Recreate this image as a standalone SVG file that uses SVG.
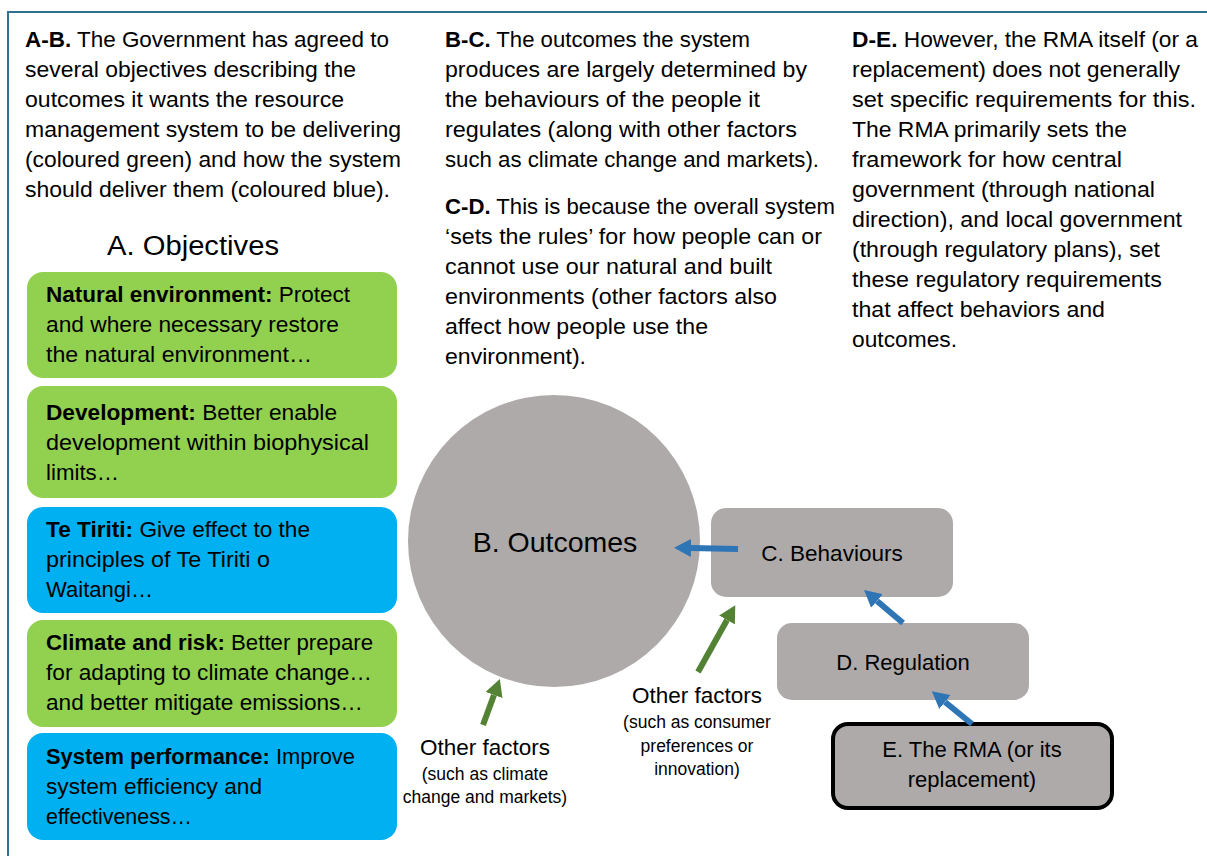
<svg xmlns="http://www.w3.org/2000/svg" width="1207" height="856" viewBox="0 0 1207 856">
<style>
.t{font-family:"Liberation Sans",Arial,sans-serif;font-size:22px;fill:#000}
.b{font-weight:bold}
.c{text-anchor:middle}
.s{font-size:17.5px}
.g{fill:#92d050}
.bl{fill:#00b0f0}
.grey{fill:#aeaaaa}
.ab{stroke:#2e75b6;stroke-width:6;fill:none}
.ag{stroke:#548235;stroke-width:6;fill:none}
</style>
<defs>
<marker id="hb" markerUnits="userSpaceOnUse" markerWidth="18" markerHeight="18" refX="0" refY="9" orient="auto" viewBox="0 0 18 18"><path d="M0,0 L17,9 L0,18 z" fill="#2e75b6"/></marker>
<marker id="hg" markerUnits="userSpaceOnUse" markerWidth="18" markerHeight="18" refX="0" refY="9" orient="auto" viewBox="0 0 18 18"><path d="M0,0 L17,9 L0,18 z" fill="#548235"/></marker>
</defs>
<rect width="1207" height="856" fill="#fff"/>
<g id="frame"><path d="M8,856 V12 H1207" fill="none" stroke="#31708f" stroke-width="2"/></g>

<g id="text-ab">
<text class="t" x="25" y="47" textLength="364" lengthAdjust="spacingAndGlyphs"><tspan class="b">A-B.</tspan> The Government has agreed to</text>
<text class="t" x="25" y="77" textLength="331" lengthAdjust="spacingAndGlyphs">several objectives describing the</text>
<text class="t" x="25" y="107" textLength="319" lengthAdjust="spacingAndGlyphs">outcomes it wants the resource</text>
<text class="t" x="25" y="137" textLength="376" lengthAdjust="spacingAndGlyphs">management system to be delivering</text>
<text class="t" x="25" y="167" textLength="376" lengthAdjust="spacingAndGlyphs">(coloured green) and how the system</text>
<text class="t" x="25" y="197" textLength="365" lengthAdjust="spacingAndGlyphs">should deliver them (coloured blue).</text>
</g>

<g id="text-bc">
<text class="t" x="445" y="47" textLength="305" lengthAdjust="spacingAndGlyphs"><tspan class="b">B-C.</tspan> The outcomes the system</text>
<text class="t" x="445" y="77" textLength="362" lengthAdjust="spacingAndGlyphs">produces are largely determined by</text>
<text class="t" x="445" y="107" textLength="315" lengthAdjust="spacingAndGlyphs">the behaviours of the people it</text>
<text class="t" x="445" y="137" textLength="352" lengthAdjust="spacingAndGlyphs">regulates (along with other factors</text>
<text class="t" x="445" y="167" textLength="374" lengthAdjust="spacingAndGlyphs">such as climate change and markets).</text>
</g>

<g id="text-cd">
<text class="t" x="445" y="214" textLength="390" lengthAdjust="spacingAndGlyphs"><tspan class="b">C-D.</tspan> This is because the overall system</text>
<text class="t" x="445" y="244" textLength="377" lengthAdjust="spacingAndGlyphs">‘sets the rules’ for how people can or</text>
<text class="t" x="445" y="274" textLength="327" lengthAdjust="spacingAndGlyphs">cannot use our natural and built</text>
<text class="t" x="445" y="304" textLength="332" lengthAdjust="spacingAndGlyphs">environments (other factors also</text>
<text class="t" x="445" y="334" textLength="263" lengthAdjust="spacingAndGlyphs">affect how people use the</text>
<text class="t" x="445" y="364" textLength="141" lengthAdjust="spacingAndGlyphs">environment).</text>
</g>

<g id="text-de">
<text class="t" x="852" y="47" textLength="346" lengthAdjust="spacingAndGlyphs"><tspan class="b">D-E.</tspan> However, the RMA itself (or a</text>
<text class="t" x="852" y="77" textLength="328" lengthAdjust="spacingAndGlyphs">replacement) does not generally</text>
<text class="t" x="852" y="107" textLength="344" lengthAdjust="spacingAndGlyphs">set specific requirements for this.</text>
<text class="t" x="852" y="137" textLength="275" lengthAdjust="spacingAndGlyphs">The RMA primarily sets the</text>
<text class="t" x="852" y="167" textLength="270" lengthAdjust="spacingAndGlyphs">framework for how central</text>
<text class="t" x="852" y="197" textLength="303" lengthAdjust="spacingAndGlyphs">government (through national</text>
<text class="t" x="852" y="227" textLength="330" lengthAdjust="spacingAndGlyphs">direction), and local government</text>
<text class="t" x="852" y="257" textLength="308" lengthAdjust="spacingAndGlyphs">(through regulatory plans), set</text>
<text class="t" x="852" y="287" textLength="310" lengthAdjust="spacingAndGlyphs">these regulatory requirements</text>
<text class="t" x="852" y="317" textLength="253" lengthAdjust="spacingAndGlyphs">that affect behaviors and</text>
<text class="t" x="852" y="347" textLength="105" lengthAdjust="spacingAndGlyphs">outcomes.</text>
</g>

<g id="objectives-title">
<text class="t" x="107" y="255" style="font-size:27px" textLength="172" lengthAdjust="spacingAndGlyphs">A. Objectives</text>
</g>

<g id="obj-natural">
<rect class="g" x="27" y="272" width="370" height="106" rx="16"/>
<text class="t" x="46" y="302" textLength="304" lengthAdjust="spacingAndGlyphs"><tspan class="b">Natural environment:</tspan> Protect</text>
<text class="t" x="46" y="332" textLength="293" lengthAdjust="spacingAndGlyphs">and where necessary restore</text>
<text class="t" x="46" y="362" textLength="266" lengthAdjust="spacingAndGlyphs">the natural environment…</text>
</g>
<g id="obj-development">
<rect class="g" x="27" y="386" width="370" height="112" rx="16"/>
<text class="t" x="46" y="420" textLength="291" lengthAdjust="spacingAndGlyphs"><tspan class="b">Development:</tspan> Better enable</text>
<text class="t" x="46" y="450" textLength="323" lengthAdjust="spacingAndGlyphs">development within biophysical</text>
<text class="t" x="46" y="480" textLength="73" lengthAdjust="spacingAndGlyphs">limits…</text>
</g>
<g id="obj-tetiriti">
<rect class="bl" x="27" y="507" width="370" height="106" rx="16"/>
<text class="t" x="46" y="537" textLength="264" lengthAdjust="spacingAndGlyphs"><tspan class="b">Te Tiriti:</tspan> Give effect to the</text>
<text class="t" x="46" y="567" textLength="224" lengthAdjust="spacingAndGlyphs">principles of Te Tiriti o</text>
<text class="t" x="46" y="597" textLength="107" lengthAdjust="spacingAndGlyphs">Waitangi…</text>
</g>
<g id="obj-climate">
<rect class="g" x="27" y="620" width="370" height="107" rx="16"/>
<text class="t" x="46" y="650" textLength="327" lengthAdjust="spacingAndGlyphs"><tspan class="b">Climate and risk:</tspan> Better prepare</text>
<text class="t" x="46" y="680" textLength="326" lengthAdjust="spacingAndGlyphs">for adapting to climate change…</text>
<text class="t" x="46" y="710" textLength="317" lengthAdjust="spacingAndGlyphs">and better mitigate emissions…</text>
</g>
<g id="obj-system">
<rect class="bl" x="27" y="733" width="370" height="107" rx="16"/>
<text class="t" x="46" y="764" textLength="309" lengthAdjust="spacingAndGlyphs"><tspan class="b">System performance:</tspan> Improve</text>
<text class="t" x="46" y="794" textLength="216" lengthAdjust="spacingAndGlyphs">system efficiency and</text>
<text class="t" x="46" y="824" textLength="146" lengthAdjust="spacingAndGlyphs">effectiveness…</text>
</g>

<g id="outcomes">
<circle class="grey" cx="554" cy="541" r="146"/>
<text class="t c" x="555" y="552" style="font-size:28.5px">B. Outcomes</text>
</g>
<g id="behaviours">
<rect class="grey" x="711" y="508" width="242" height="89" rx="15"/>
<text class="t c" x="832" y="561" style="font-size:22.5px">C. Behaviours</text>
</g>
<g id="regulation">
<rect class="grey" x="777" y="623" width="252" height="77" rx="15"/>
<text class="t c" x="903" y="670">D. Regulation</text>
</g>
<g id="rma">
<rect class="grey" x="833" y="724" width="279" height="84" rx="15" stroke="#000" stroke-width="4"/>
<text class="t c" x="972" y="757">E. The RMA (or its</text>
<text class="t c" x="972" y="787">replacement)</text>
</g>

<g id="other-factors-1">
<text class="t c" x="485" y="755" style="font-size:22.5px">Other factors</text>
<text class="t c s" x="485" y="780">(such as climate</text>
<text class="t c s" x="485" y="803">change and markets)</text>
</g>
<g id="other-factors-2">
<text class="t c" x="697" y="703" style="font-size:22.5px">Other factors</text>
<text class="t c s" x="697" y="728">(such as consumer</text>
<text class="t c s" x="697" y="752">preferences or</text>
<text class="t c s" x="697" y="775">innovation)</text>
</g>

<g id="connectors">
<line class="ab" x1="738" y1="549" x2="691" y2="548" marker-end="url(#hb)"/>
<line class="ab" x1="903" y1="623" x2="877" y2="601" marker-end="url(#hb)"/>
<line class="ab" x1="972" y1="724" x2="945" y2="702" marker-end="url(#hb)"/>
<line class="ag" x1="483" y1="725" x2="494" y2="695" marker-end="url(#hg)"/>
<line class="ag" x1="698" y1="672" x2="727" y2="620" marker-end="url(#hg)"/>
</g>
</svg>
